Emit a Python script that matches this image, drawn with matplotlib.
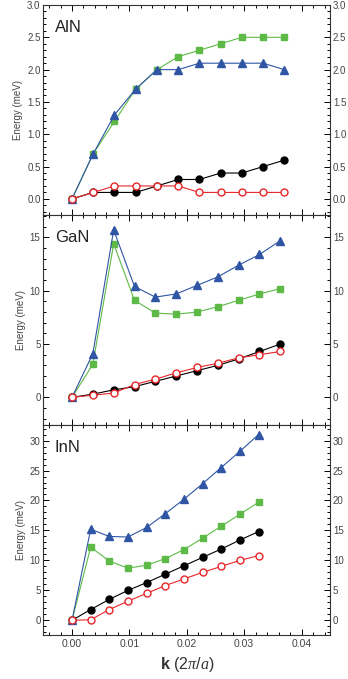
import numpy as np
import matplotlib
matplotlib.use("Agg")
import matplotlib.pyplot as plt
from matplotlib.ticker import MultipleLocator

plt.rcParams['font.family'] = ['Liberation Sans', 'DejaVu Sans']
plt.rcParams['mathtext.fontset'] = 'custom'
plt.rcParams['mathtext.it'] = 'Liberation Serif:italic'
plt.rcParams['mathtext.rm'] = 'Liberation Serif'
plt.rcParams['mathtext.bf'] = 'Liberation Sans:bold'

# k step per material (units of 2pi/a), 11 points each
aln_k = [i * 0.0037 for i in range(11)]
gan_k = [i * 0.00363 for i in range(11)]
inn_k = [i * 0.00325 for i in range(11)]

# AlN
aln_black = [0, 0.1, 0.1, 0.1, 0.2, 0.3, 0.3, 0.4, 0.4, 0.5, 0.6]
aln_red = [0, 0.1, 0.2, 0.2, 0.2, 0.2, 0.1, 0.1, 0.1, 0.1, 0.1]
aln_green = [0, 0.7, 1.2, 1.7, 2.0, 2.2, 2.3, 2.4, 2.5, 2.5, 2.5]
aln_blue = [0, 0.7, 1.3, 1.7, 2.0, 2.0, 2.1, 2.1, 2.1, 2.1, 2.0]

# GaN
gan_black = [0, 0.3, 0.7, 1.0, 1.5, 2.0, 2.5, 3.0, 3.6, 4.3, 5.0]
gan_red = [0, 0.2, 0.4, 1.2, 1.7, 2.3, 2.8, 3.2, 3.7, 4.0, 4.3]
gan_green = [0, 3.1, 14.4, 9.1, 7.9, 7.8, 8.0, 8.5, 9.1, 9.7, 10.2]
gan_blue = [0, 4.1, 15.7, 10.4, 9.4, 9.7, 10.5, 11.3, 12.4, 13.4, 14.7]

# InN
inn_black = [0, 1.8, 3.5, 5.0, 6.3, 7.7, 9.1, 10.5, 11.9, 13.4, 14.8]
inn_red = [0, 0.1, 1.8, 3.2, 4.5, 5.8, 6.9, 8.0, 9.0, 10.0, 10.8]
inn_green = [0, 12.2, 9.9, 8.7, 9.2, 10.3, 11.8, 13.7, 15.7, 17.7, 19.7]
inn_blue = [0, 15.2, 14.0, 13.9, 15.5, 17.8, 20.2, 22.8, 25.5, 28.2, 31.0]

panels = [
    ("AlN", aln_k, aln_black, aln_red, aln_green, aln_blue, (-0.25, 3.0), 0.5, 0.1, "%.1f"),
    ("GaN", gan_k, gan_black, gan_red, gan_green, gan_blue, (-2.6, 17.1), 5, 1, "%d"),
    ("InN", inn_k, inn_black, inn_red, inn_green, inn_blue, (-2.45, 32.6), 5, 1, "%d"),
]

BLUE = "#2f55a4"
GREEN = "#5dba47"
RED = "#e8262a"
TICKC = "#444444"

fig = plt.figure(figsize=(3.48, 6.79), dpi=100)
left, width, h = 0.1245, 0.8245, 0.3093
bottoms = [0.6833, 0.374, 0.0648]

for (name, k, blk, red, grn, blu, ylim, major, minor, fmt), b in zip(panels, bottoms):
    ax = fig.add_axes([left, b, width, h])
    lw = 0.8
    ax.plot(k, grn, color=GREEN, lw=lw, marker="s", ms=4.6, mec=GREEN, mfc=GREEN, zorder=3)
    ax.plot(k, blu, color=BLUE, lw=lw, marker="^", ms=5.5, mec=BLUE, mfc=BLUE, zorder=4)
    ax.plot(k, blk, color="black", lw=lw, marker="o", ms=5, mec="black", mfc="black", zorder=3)
    ax.plot(k, red, color=RED, lw=lw, marker="o", ms=5, mec=RED, mfc="white", mew=1.0, zorder=5)

    ax.set_xlim(-0.005, 0.045)
    ax.set_ylim(*ylim)
    ax.xaxis.set_major_locator(MultipleLocator(0.01))
    ax.xaxis.set_minor_locator(MultipleLocator(0.002))
    ax.yaxis.set_major_locator(MultipleLocator(major))
    ax.yaxis.set_minor_locator(MultipleLocator(minor))
    ax.yaxis.set_major_formatter(matplotlib.ticker.FormatStrFormatter(fmt))
    ax.xaxis.set_major_formatter(matplotlib.ticker.FormatStrFormatter("%.2f"))

    ax.tick_params(which="both", direction="in", top=True, right=True,
                   labelright=True, labelsize=7, labelcolor=TICKC, width=0.7, pad=2)
    ax.tick_params(axis="x", labelsize=7.5, pad=3)
    ax.tick_params(which="major", length=4)
    ax.tick_params(which="minor", length=2)
    if name != "InN":
        ax.tick_params(labelbottom=False)
    for sp in ax.spines.values():
        sp.set_linewidth(0.8)
        sp.set_color("#333333")

    ax.set_ylabel("Energy (meV)", fontsize=7, color=TICKC, labelpad=3)
    ax.text(0.04, 0.93, name, transform=ax.transAxes, fontsize=12,
            ha="left", va="top", color="#222222")

ax.set_xlabel(r"$\mathbf{k}$ (2$\pi$/$a$)", fontsize=11.5, color="#333333", labelpad=4)

fig.savefig("out.png", dpi=100)
